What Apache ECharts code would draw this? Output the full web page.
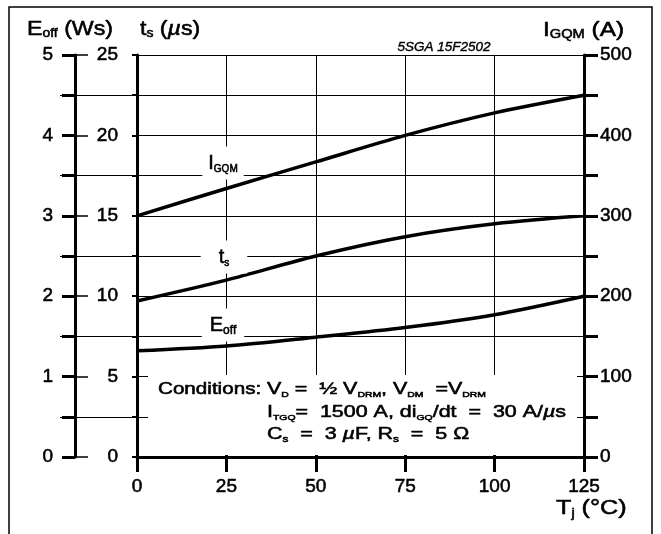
<!DOCTYPE html>
<html>
<head>
<meta charset="utf-8">
<script src="https://cdn.jsdelivr.net/npm/echarts@6/dist/echarts.min.js"></script>
<style>
  html, body { margin: 0; padding: 0; background: #fff; }
  #chart { width: 661px; height: 534px; }
</style>
</head>
<body>
<div id="chart"></div>
<script>
// Junction temperature (°C)
const temperatures = [0, 25, 50, 75, 100, 125];
// Max. controllable turn-off current I_GQM (A)
const gateCurrent = [300, 334, 367, 400, 428, 450];
// Storage time t_s (µs)
const storageTime = [9.7, 11.0, 12.5, 13.7, 14.5, 15.0];
// Turn-off energy E_off (Ws)
const turnOffEnergy = [1.32, 1.38, 1.49, 1.61, 1.77, 2.0];
// Half-step guide levels on the E_off scale, drawn across all axes
const energyGuides = [0.5, 1.5, 2.5, 3.5, 4.5];

const FONT = 'Liberation Sans';
const INK = '#000';
const EMBOLDEN = 0.55;

const pairs = (ys) => temperatures.map((t, i) => [t, ys[i]]);

const norm = (size, lh) => ({ fontSize: size, lineHeight: lh, fontFamily: FONT, fill: INK, stroke: INK, lineWidth: EMBOLDEN });
const sub = (size) => ({ ...norm(size, size), verticalAlign: 'bottom' });
const ital = (size, lh) => ({ ...norm(size, lh), fontStyle: 'italic' });

const chart = echarts.init(document.getElementById('chart'), null, { renderer: 'canvas' });

const labelStyle = {
  color: INK, fontSize: 19, fontFamily: FONT,
  textBorderColor: INK, textBorderWidth: EMBOLDEN
};

// rich text block anchored at (x, y), stretched horizontally
const label = (x, y, text, rich, extra) => ({
  type: 'text', z: 61, x, y, scaleX: (extra && extra.scaleX) || 1,
  style: Object.assign({ text, align: 'left', verticalAlign: 'middle', rich }, (extra && extra.style) || {})
});

const option = {
  animation: false,
  backgroundColor: '#fff',
  grid: [
    { left: 137, right: 77, top: 55, bottom: 77, containLabel: false },
    { left: 60, right: 63, top: 55, bottom: 77, containLabel: false }
  ],
  xAxis: [
    {
      gridIndex: 0, type: 'value', min: 0, max: 125, interval: 25, position: 'bottom',
      axisLine: { show: true, onZero: false, lineStyle: { color: INK, width: 3 } },
      axisTick: { show: true, length: 15, lineStyle: { color: INK, width: 3 } },
      axisLabel: { ...labelStyle, margin: 20 },
      splitLine: { show: true, lineStyle: { color: INK, width: 1 } }
    },
    {
      gridIndex: 0, type: 'value', min: 0, max: 125, interval: 25, position: 'bottom',
      axisLine: { show: false, onZero: false },
      axisTick: { show: true, inside: true, length: 6, lineStyle: { color: INK, width: 3 } },
      axisLabel: { show: false },
      splitLine: { show: false }
    },
    { gridIndex: 1, type: 'value', min: 0, max: 1, show: false }
  ],
  yAxis: [
    { // t_s
      gridIndex: 0, type: 'value', min: 0, max: 25, interval: 2.5, position: 'left',
      axisLine: { show: true, onZero: false, lineStyle: { color: INK, width: 3 } },
      axisTick: { show: true, length: 5, lineStyle: { color: INK, width: 2 } },
      axisLabel: { ...labelStyle, margin: 19, formatter: (v) => (v % 5 === 0 ? String(v) : '') },
      splitLine: { show: true, lineStyle: { color: INK, width: 1 } }
    },
    { // E_off
      gridIndex: 0, type: 'value', min: 0, max: 5, interval: 0.5, position: 'left', offset: 62,
      axisLine: { show: true, onZero: false, lineStyle: { color: INK, width: 3 } },
      axisTick: { show: true, length: 13, lineStyle: { color: INK, width: 3 } },
      axisLabel: { ...labelStyle, margin: 22, formatter: (v) => (v % 1 === 0 ? String(v) : '') },
      splitLine: { show: false }
    },
    { // E_off ticks on the inner side
      gridIndex: 0, type: 'value', min: 0, max: 5, interval: 1, position: 'left', offset: 62,
      axisLine: { show: false, onZero: false },
      axisTick: { show: true, inside: true, length: 13, lineStyle: { color: INK, width: 1.5 } },
      axisLabel: { show: false },
      splitLine: { show: false }
    },
    { // I_GQM
      gridIndex: 0, type: 'value', min: 0, max: 500, interval: 50, position: 'right',
      axisLine: { show: true, onZero: false, lineStyle: { color: INK, width: 3 } },
      axisTick: { show: true, length: 14, lineStyle: { color: INK, width: 3 } },
      axisLabel: { ...labelStyle, margin: 16, formatter: (v) => (v % 100 === 0 ? String(v) : '') },
      splitLine: { show: false }
    },
    { gridIndex: 1, type: 'value', min: 0, max: 5, show: false }
  ],
  series: [
    {
      type: 'line', xAxisIndex: 2, yAxisIndex: 4, data: [], silent: true,
      markLine: {
        silent: true, symbol: ['none', 'none'], animation: false,
        label: { show: false },
        lineStyle: { color: INK, width: 1, type: 'solid' },
        emphasis: { disabled: true },
        data: energyGuides.map((v) => ({ yAxis: v }))
      }
    },
    {
      name: 'I_GQM', type: 'line', xAxisIndex: 0, yAxisIndex: 3, data: pairs(gateCurrent),
      smooth: 0.3, symbol: 'none', lineStyle: { color: INK, width: 3.5 }, z: 5
    },
    {
      name: 't_s', type: 'line', xAxisIndex: 0, yAxisIndex: 0, data: pairs(storageTime),
      smooth: 0.3, symbol: 'none', lineStyle: { color: INK, width: 3.5 }, z: 5
    },
    {
      name: 'E_off', type: 'line', xAxisIndex: 0, yAxisIndex: 1, data: pairs(turnOffEnergy),
      smooth: 0.3, symbol: 'none', lineStyle: { color: INK, width: 3.5 }, z: 5
    }
  ],
  graphic: [
    // frame
    { type: 'rect', z: 1, silent: true, shape: { x: 9, y: 7, width: 643, height: 540 },
      style: { fill: 'none', stroke: INK, lineWidth: 1.5 } },
    // axis titles
    label(27, 29, '{n|E}{s|off}{n| (Ws)}', { n: norm(20, 22), s: sub(12) }, { scaleX: 1.16 }),
    label(140, 29, '{n|t}{s|s}{n| (}{m|µ}{n|s)}', { n: norm(20, 22), s: sub(12), m: ital(20, 22) }, { scaleX: 1.16 }),
    label(543, 30, '{n|I}{s|GQM}{n| (A)}', { n: norm(20, 22), s: sub(12) }, { scaleX: 1.22 }),
    { type: 'text', z: 50, x: 444, y: 47, style: {
        text: '5SGA 15F2502', align: 'center', verticalAlign: 'middle',
        fontSize: 13.5, fontStyle: 'italic', fontFamily: FONT, fill: INK, stroke: INK, lineWidth: 0.4 } },
    label(556, 508, '{n|T}{s|j}{n| (°C)}', { n: norm(21, 23), s: sub(12) }, { scaleX: 1.2 }),
    // curve names
    { type: 'text', z: 60, x: 223, y: 163, style: {
        text: '{n|I}{s|GQM}', align: 'center', verticalAlign: 'middle',
        backgroundColor: '#fff', padding: [6, 6, 5, 6],
        rich: { n: norm(20, 22), s: sub(10) } } },
    { type: 'text', z: 60, x: 224, y: 257, style: {
        text: '{n|t}{s|s}', align: 'center', verticalAlign: 'middle',
        backgroundColor: '#fff', padding: [6, 18, 5, 18],
        rich: { n: norm(20, 22), s: sub(10) } } },
    { type: 'text', z: 60, x: 223, y: 325, style: {
        text: '{n|E}{s|off}', align: 'center', verticalAlign: 'middle',
        backgroundColor: '#fff', padding: [6, 8, 5, 8],
        rich: { n: norm(20, 22), s: sub(12) } } },
    // test conditions panel
    { type: 'rect', z: 60, silent: true, shape: { x: 148, y: 375, width: 429, height: 80 },
      style: { fill: '#fff' } },
    label(158, 389, '{n|Conditions:}', { n: norm(16.5, 20) }, { scaleX: 1.25 }),
    label(267, 389, '{n|V}{s|D}{n| =  ½ V}{s|DRM}{n|, V}{s|DM}{n|  =V}{s|DRM}',
      { n: norm(16.5, 20), s: sub(8) }, { scaleX: 1.3 }),
    label(267, 412, '{n|I}{s|TGQ}{n|=  1500 A, di}{s|GQ}{n|/dt  =  30 A/}{m|µ}{n|s}',
      { n: norm(16.5, 20), s: sub(8), m: ital(16.5, 20) }, { scaleX: 1.3 }),
    label(267, 434, '{n|C}{s|s}{n|  =  3 }{m|µ}{n|F, R}{s|s}{n|  =  5 Ω}',
      { n: norm(16.5, 20), s: sub(9), m: ital(16.5, 20) }, { scaleX: 1.3 })
  ]
};

chart.setOption(option);
</script>
</body>
</html>
